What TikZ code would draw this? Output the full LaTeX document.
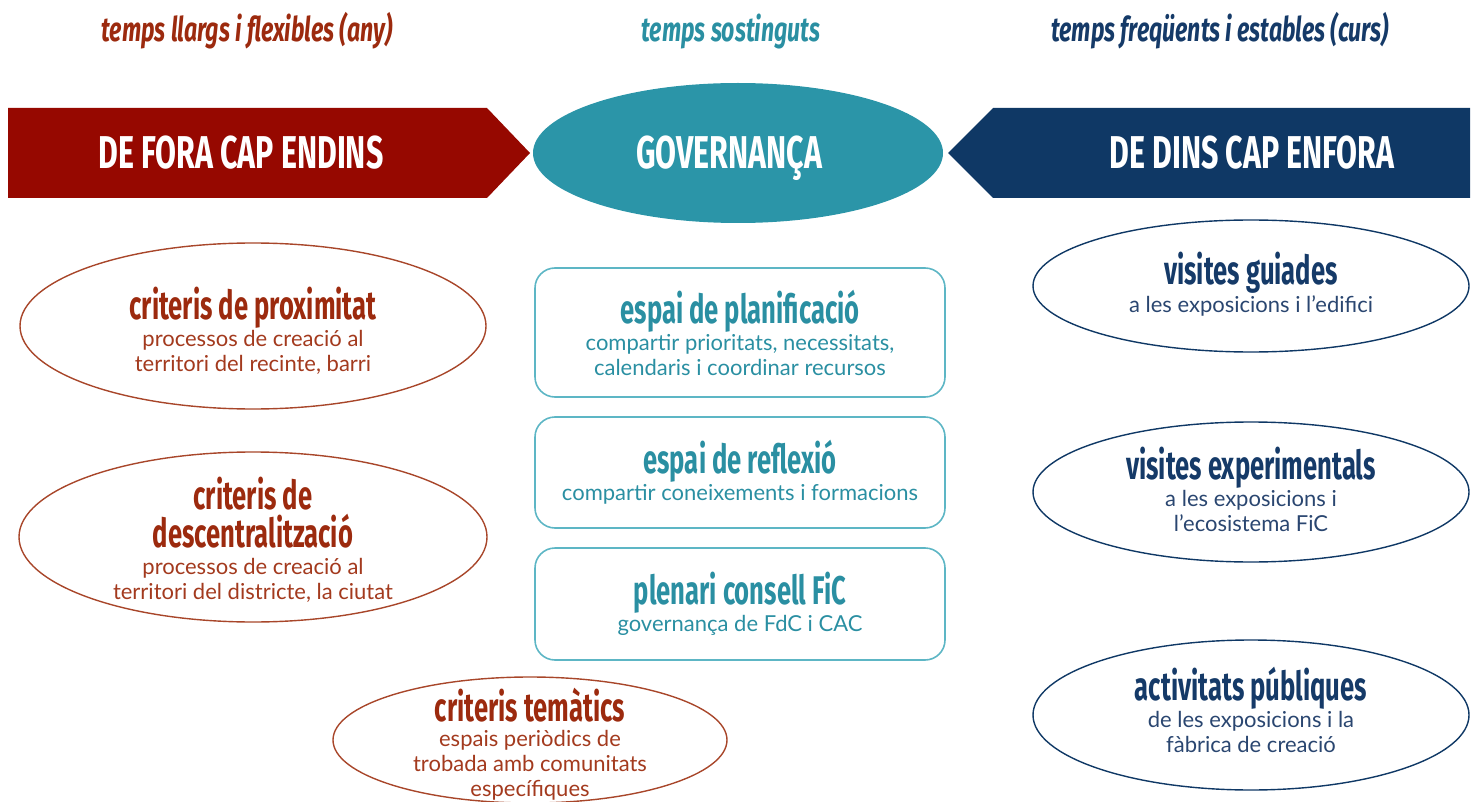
\documentclass[tikz,border=0pt]{standalone}
\usepackage{fontspec}
\setmainfont{Lato}
\newfontfamily\condA[FakeStretch=0.66]{Fira Sans}
\newfontfamily\condB[FakeStretch=0.64]{Fira Sans}
\newfontfamily\condC[FakeStretch=0.68]{Fira Sans}
\usetikzlibrary{shapes.geometric}
\definecolor{rd}{HTML}{960800}
\definecolor{rdtxt}{HTML}{9C2A0E}
\definecolor{rdsub}{HTML}{A33A1E}
\definecolor{rdline}{HTML}{A8462A}
\definecolor{tl}{HTML}{2B95A8}
\definecolor{tltxt}{HTML}{2A8FA2}
\definecolor{tlline}{HTML}{5DB6C5}
\definecolor{nv}{HTML}{0F3865}
\definecolor{nvtxt}{HTML}{153A68}
\definecolor{nvsub}{HTML}{2A4670}
\newcommand{\bigttl}{\condA\bfseries\fontsize{23}{26}\selectfont}
\newcommand{\hdr}{\condC\bfseries\itshape\fontsize{17}{20}\selectfont}
\newcommand{\ttl}{\condB\bfseries\fontsize{20}{21}\selectfont}
\newcommand{\sbt}{\fontsize{11}{12.5}\selectfont}
\begin{document}
\begin{tikzpicture}[x=0.5pt,y=-0.5pt,
  oval/.style={ellipse,draw,line width=0.7pt,inner sep=0pt,align=center,font=\sbt},
  boxy/.style={rectangle,rounded corners=10pt,draw=tlline,line width=0.8pt,inner sep=0pt,
    minimum width=205pt,align=center,font=\sbt,text=tltxt},
  hd/.style={font=\hdr,inner sep=0pt,anchor=base},
  big/.style={font=\bigttl,text=white,inner sep=0pt,anchor=base}]
\useasboundingbox (0,0) rectangle (1477,802);
% header
\node[hd,text=rdtxt] (h1) at (247,42) {temps llargs i flexibles (any)};
\node[hd,text=tltxt] (h2) at (731,42) {temps sostinguts};
\node[hd,text=nvtxt] (h3) at (1220,42) {temps freqüents i estables (curs)};
% arrows
\fill[rd] (8,108) -- (487,108) -- (530,153) -- (487,198) -- (8,198) -- cycle;
\fill[nv] (1470,108) -- (993,108) -- (948,153) -- (993,198) -- (1470,198) -- cycle;
\node[ellipse,fill=tl,minimum width=205pt,minimum height=70pt,inner sep=0pt] (gov) at (738,153) {};
\node[big] (t1) at (241,169) {DE FORA CAP ENDINS};
\node[big] (t2) at (729,169) {GOVERNANÇA};
\node[big] (t3) at (1252,169) {DE DINS CAP ENFORA};
% left ellipses
\node[oval,draw=rdline,text=rdsub,minimum width=233pt,minimum height=83pt] (e1) at (253,326) {};
\node[text=rdsub,align=center,font=\sbt,inner sep=0pt] (e1t) at (253,331)
  {{\ttl\color{rdtxt}criteris de proximitat}\\processos de creació al\\territori del recinte, barri};
\node[oval,draw=rdline,text=rdsub,minimum width=234pt,minimum height=85pt] (e2) at (253,537) {};
\node[text=rdsub,align=center,font=\sbt,inner sep=0pt] (e2t) at (253,540)
  {{\ttl\color{rdtxt}criteris de}\\[1pt]{\ttl\color{rdtxt}descentralització}\\[1pt]processos de creació al\\territori del districte, la ciutat};
\node[oval,draw=rdline,text=rdsub,minimum width=197pt,minimum height=63pt] (e3) at (530,740) {};
\node[text=rdsub,align=center,font=\sbt,inner sep=0pt] (e3t) at (530,744)
  {{\ttl\color{rdtxt}criteris temàtics}\\espais periòdics de\\trobada amb comunitats\\específiques};
% middle boxes
\node[boxy,minimum height=64.5pt] (b1) at (740,332.5)
  {{\ttl espai de planificació}\\compartir prioritats, necessitats,\\calendaris i coordinar recursos};
\node[boxy,minimum height=55.5pt] (b2) at (740,472.5)
  {{\ttl espai de reflexió}\\compartir coneixements i formacions};
\node[boxy,minimum height=56pt] (b3) at (740,604)
  {{\ttl plenari consell FiC}\\governança de FdC i CAC};
% right ellipses
\node[oval,draw=nv,minimum width=218pt,minimum height=66pt] (r1) at (1251,286) {};
\node[text=nvsub,align=center,font=\sbt,inner sep=0pt] (r1t) at (1251,284)
  {{\ttl\color{nvtxt}visites guiades}\\a les exposicions i l’edifici};
\node[oval,draw=nv,minimum width=218pt,minimum height=70pt] (r2) at (1251,492) {};
\node[text=nvsub,align=center,font=\sbt,inner sep=0pt] (r2t) at (1251,489)
  {{\ttl\color{nvtxt}visites experimentals}\\a les exposicions i\\l’ecosistema FiC};
\node[oval,draw=nv,minimum width=218pt,minimum height=75pt] (r3) at (1251,715) {};
\node[text=nvsub,align=center,font=\sbt,inner sep=0pt] (r3t) at (1251,710)
  {{\ttl\color{nvtxt}activitats públiques}\\de les exposicions i la\\fàbrica de creació};
\end{tikzpicture}
\end{document}
